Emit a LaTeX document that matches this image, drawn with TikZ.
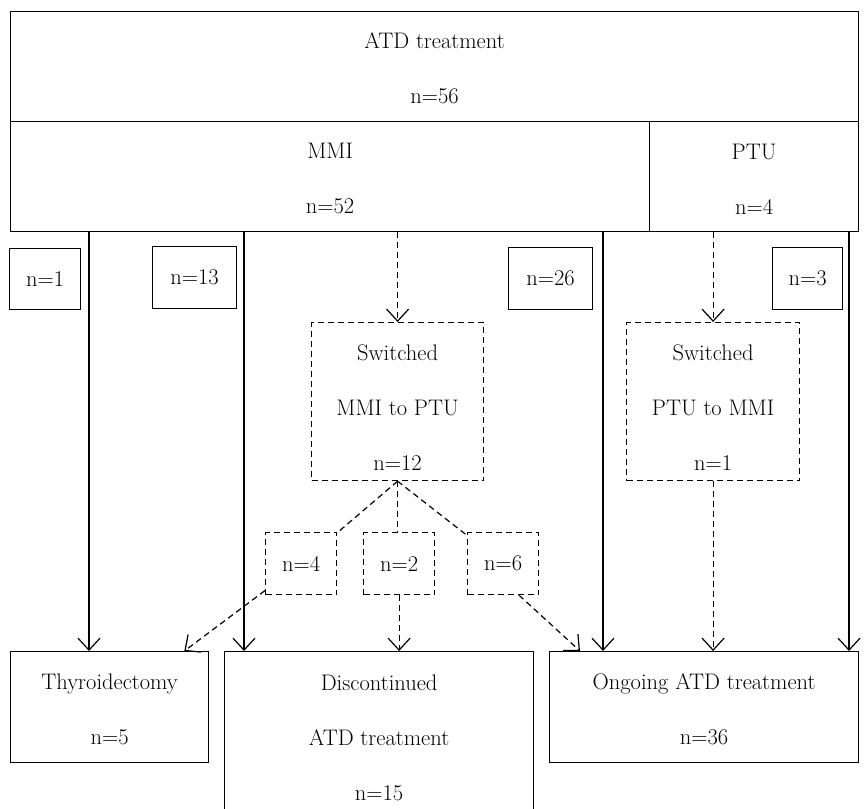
\documentclass[tikz,border=0pt]{standalone}
\usetikzlibrary{arrows.meta,calc}
\newcommand{\raiseA}{\rule{0pt}{20pt}}
\newcommand{\raiseB}{\rule{0pt}{27pt}}
\begin{document}
\begin{tikzpicture}[x=1pt,y=-1pt,
  box/.style={draw, line width=1.2pt, inner sep=0pt, align=center, anchor=north west,
    font=\fontsize{22.5}{55}\selectfont},
  dbox/.style={box, dash pattern=on 6pt off 4pt},
  sarr/.style={line width=1.2pt, -{Straight Barb[length=12pt,width=22pt]}},
  darr/.style={sarr, dash pattern=on 6pt off 4pt},
  dln/.style={line width=1.2pt, dash pattern=on 6pt off 4pt}]
\useasboundingbox (0,0) rectangle (864,808);
% boxes
\node[box, minimum width=848pt, minimum height=110pt] (atd) at (10,11) {\raiseA ATD treatment\\n=56};
\node[box, minimum width=639pt, minimum height=110pt] (mmi) at (10,121) {\raiseA MMI\\n=52};
\node[box, minimum width=209pt, minimum height=110pt] (ptu) at (649,121) {\raiseA PTU\\n=4};
\node[box, minimum width=71pt, minimum height=61pt] (c1) at (9,248) {n=1};
\node[box, minimum width=84pt, minimum height=62pt] (c13) at (152,246) {n=13};
\node[box, minimum width=84pt, minimum height=62pt] (c26) at (508,247) {n=26};
\node[box, minimum width=70pt, minimum height=62pt] (c3) at (772,247) {n=3};
\node[dbox, minimum width=172pt, minimum height=158pt] (sw1) at (311,322) {\raiseB Switched\\MMI to PTU\\n=12};
\node[dbox, minimum width=173pt, minimum height=158pt] (sw2) at (626,322) {\raiseB Switched\\PTU to MMI\\n=1};
\node[dbox, minimum width=71pt, minimum height=62pt] (n4) at (265,532) {n=4};
\node[dbox, minimum width=71pt, minimum height=62pt] (n2) at (363,532) {n=2};
\node[dbox, minimum width=71pt, minimum height=62pt] (n6) at (467,532) {n=6};
\node[box, minimum width=198pt, minimum height=111pt] (thy) at (10,651) {\raiseA Thyroidectomy\\n=5};
\node[box, minimum width=309pt, minimum height=172pt] (dis) at (224,651) {Discontinued\\ATD treatment\\n=15};
\node[box, minimum width=309pt, minimum height=111pt] (ong) at (549,651) {\raiseA Ongoing ATD treatment\\n=36};
% column positions
\coordinate (xa) at (89,0);
\coordinate (xb) at (244,0);
\coordinate (xc) at (603,0);
\coordinate (xd) at (849,0);
% solid connectors
\draw[sarr] (mmi.south -| xa) -- (thy.north -| xa);
\draw[sarr] (mmi.south -| xb) -- (dis.north -| xb);
\draw[sarr] (mmi.south -| xc) -- (ong.north -| xc);
\draw[sarr] (ptu.south -| xd) -- (ong.north -| xd);
% dashed connectors
\draw[darr] (mmi.south -| sw1.north) -- (sw1.north);
\draw[darr] (ptu.south -| sw2.north) -- (sw2.north);
\draw[dln] (sw1.south) -- (n4);
\draw[dln] (sw1.south) -- (sw1.south |- n2.north);
\draw[dln] (sw1.south) -- (n6);
\draw[darr] (n4) -- (thy);
\draw[darr] (n2.south) -- (n2.south |- dis.north);
\coordinate (n6out) at ($(n6.south west)+(52,0)$);
\coordinate (ongin) at ($(ong.north west)+(31,0)$);
\draw[darr] (n6out) -- (ongin);
\draw[darr] (sw2.south) -- (sw2.south |- ong.north);
\end{tikzpicture}
\end{document}
